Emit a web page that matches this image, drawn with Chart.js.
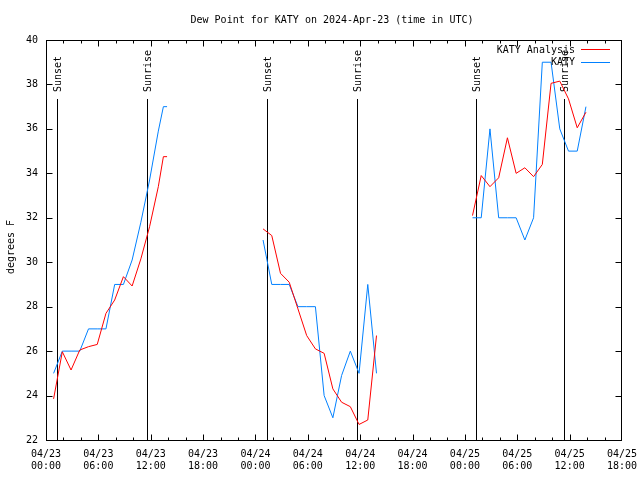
<!DOCTYPE html>
<html>
<head>
<meta charset="utf-8">
<script src="https://cdn.jsdelivr.net/npm/chart.js@4.4.1/dist/chart.umd.min.js"></script>
<style>
  html, body { margin: 0; padding: 0; background: #fff; }
  canvas { display: block; }
</style>
</head>
<body>
<canvas id="dewChart" width="640" height="480"></canvas>
<script>
// hours since 04/23 00:00 UTC (obs land at ~:52 past the hour)
const seg1Hours = [0.87, 1.87, 2.87, 3.87, 4.87, 5.87, 6.87, 7.87, 8.87, 9.87, 10.87, 11.87, 12.87, 13.45, 13.87];
const seg1Obs = [25, 26, 26, 26, 27, 27, 27, 29, 29, 30.1, 31.8, 33.7, 35.9, 37, 37];
const seg1Ana = [23.85, 25.97, 25.15, 26.05, 26.2, 26.3, 27.7, 28.3, 29.35, 28.93, 30.15, 31.6, 33.4, 34.75, 34.75];

const seg2Hours = [24.87, 25.87, 26.87, 27.87, 28.87, 29.87, 30.87, 31.87, 32.87, 33.87, 34.87, 35.87, 36.87, 37.87];
const seg2Obs = [31, 29, 29, 29, 28, 28, 28, 24, 23, 24.9, 26, 25, 29, 25];
const seg2Ana = [31.5, 31.2, 29.5, 29.1, 27.9, 26.7, 26.1, 25.9, 24.3, 23.7, 23.5, 22.7, 22.9, 26.7];

const seg3Hours = [48.87, 49.87, 50.87, 51.87, 52.87, 53.87, 54.87, 55.87, 56.87, 57.87, 58.87, 59.87, 60.87, 61.87];
const seg3Obs = [32, 32, 36, 32, 32, 32, 31, 32, 39, 39, 36, 35, 35, 37];
const seg3Ana = [32.1, 33.9, 33.4, 33.8, 35.6, 34.0, 34.25, 33.85, 34.4, 38.05, 38.15, 37.35, 36.05, 36.75];

// sunset / sunrise markers
const sunHours = [1.22, 11.55, 25.32, 35.58, 49.31, 59.41];
const sunLabels = ['Sunset', 'Sunrise', 'Sunset', 'Sunrise', 'Sunset', 'Sunrise'];

const seriesNames = ['KATY Analysis', 'KATY'];
const seriesColors = ['#ff0000', '#0080ff'];

const FONT = '10px "DejaVu Sans Mono", monospace';

// join the segments, with a null point between each so the line breaks
function joinSegments(hoursList, valueList) {
    const pts = [];
    hoursList.forEach(function (hrs, s) {
        if (s > 0) pts.push({ x: hrs[0] - 1, y: null });
        hrs.forEach(function (h, i) { pts.push({ x: h, y: valueList[s][i] }); });
    });
    return pts;
}

const anaPoints = joinSegments([seg1Hours, seg2Hours, seg3Hours], [seg1Ana, seg2Ana, seg3Ana]);
const obsPoints = joinSegments([seg1Hours, seg2Hours, seg3Hours], [seg1Obs, seg2Obs, seg3Obs]);

function tickLabel(v) {
    const day = 23 + Math.floor(v / 24);
    const hh = v % 24;
    return ['04/' + day, (hh < 10 ? '0' : '') + hh + ':00'];
}

// sun lines under the data
const sunPlugin = {
    id: 'sunLines',
    beforeDatasetsDraw(chart) {
        const ctx = chart.ctx;
        const xs = chart.scales.x;
        const area = chart.chartArea;
        ctx.save();
        ctx.strokeStyle = '#000';
        ctx.lineWidth = 1;
        ctx.fillStyle = '#000';
        ctx.font = FONT;
        sunHours.forEach(function (h, i) {
            const px = Math.round(xs.getPixelForValue(h)) + 0.5;
            ctx.beginPath();
            ctx.moveTo(px, 99);
            ctx.lineTo(px, area.bottom);
            ctx.stroke();
            ctx.save();
            ctx.translate(px + 1, 92);
            ctx.rotate(-Math.PI / 2);
            ctx.textAlign = 'left';
            ctx.textBaseline = 'middle';
            ctx.fillText(sunLabels[i], 0, 0);
            ctx.restore();
        });
        ctx.restore();
    }
};

// border, inward ticks, title, axis title, key
const framePlugin = {
    id: 'gnuFrame',
    afterDraw(chart) {
        const ctx = chart.ctx;
        const a = chart.chartArea;
        const xs = chart.scales.x;
        const ys = chart.scales.y;
        const l = Math.round(a.left) + 0.5, r = Math.round(a.right) - 0.5;
        const t = Math.round(a.top) + 0.5, b = Math.round(a.bottom) + 0.5;
        ctx.save();
        ctx.strokeStyle = '#000';
        ctx.lineWidth = 1;
        ctx.strokeRect(l, t, r - l, b - t);

        ctx.beginPath();
        for (let h = 2; h < 66; h += 2) {
            const px = Math.round(xs.getPixelForValue(h)) + 0.5;
            const len = h % 6 === 0 ? 6 : 3;
            ctx.moveTo(px, b); ctx.lineTo(px, b - len);
            ctx.moveTo(px, t); ctx.lineTo(px, t + len);
        }
        for (let v = 24; v < 40; v += 2) {
            const py = Math.round(ys.getPixelForValue(v)) + 0.5;
            ctx.moveTo(l, py); ctx.lineTo(l + 6, py);
            ctx.moveTo(r, py); ctx.lineTo(r - 6, py);
        }
        ctx.stroke();

        ctx.fillStyle = '#000';
        ctx.font = FONT;
        ctx.textAlign = 'center';
        ctx.textBaseline = 'middle';
        ctx.fillText('Dew Point for KATY on 2024-Apr-23 (time in UTC)', 332, 20);

        ctx.save();
        ctx.translate(11, 247);
        ctx.rotate(-Math.PI / 2);
        ctx.fillText('degrees F', 0, 0);
        ctx.restore();

        // key: text then sample line
        seriesNames.forEach(function (name, i) {
            const y = 50 + i * 12.5;
            ctx.textAlign = 'right';
            ctx.fillStyle = '#000';
            ctx.fillText(name, 575, y);
            ctx.strokeStyle = seriesColors[i];
            ctx.beginPath();
            ctx.moveTo(581, Math.round(y) - 0.5);
            ctx.lineTo(610, Math.round(y) - 0.5);
            ctx.stroke();
        });
        ctx.restore();
    }
};

Chart.defaults.font.family = '"DejaVu Sans Mono", monospace';
Chart.defaults.font.size = 10;
Chart.defaults.color = '#000';

new Chart(document.getElementById('dewChart'), {
    type: 'line',
    data: {
        datasets: [
            {
                label: seriesNames[0],
                data: anaPoints,
                borderColor: seriesColors[0],
                borderWidth: 1,
                pointRadius: 0,
                tension: 0,
                spanGaps: false
            },
            {
                label: seriesNames[1],
                data: obsPoints,
                borderColor: seriesColors[1],
                borderWidth: 1,
                pointRadius: 0,
                tension: 0,
                spanGaps: false
            }
        ]
    },
    options: {
        responsive: false,
        animation: false,
        devicePixelRatio: 1,
        layout: { padding: { left: 0, right: 18, top: 40, bottom: 0 } },
        scales: {
            x: {
                type: 'linear',
                min: 0,
                max: 66,
                grid: { display: false, drawTicks: false },
                border: { display: false },
                afterFit: function (s) {
                    s.height = 40;
                    s.paddingLeft = 0;
                    s.paddingRight = 0;
                },
                ticks: {
                    stepSize: 6,
                    autoSkip: false,
                    maxRotation: 0,
                    padding: 8,
                    font: { lineHeight: 1.25 },
                    callback: tickLabel
                }
            },
            y: {
                min: 22,
                max: 40,
                grid: { display: false, drawTicks: false },
                border: { display: false },
                afterFit: function (s) {
                    s.width = 46;
                    s.paddingTop = 0;
                    s.paddingBottom = 0;
                },
                ticks: { stepSize: 2, padding: 8 }
            }
        },
        plugins: {
            legend: { display: false },
            tooltip: { enabled: false }
        }
    },
    plugins: [sunPlugin, framePlugin]
});
</script>
</body>
</html>
